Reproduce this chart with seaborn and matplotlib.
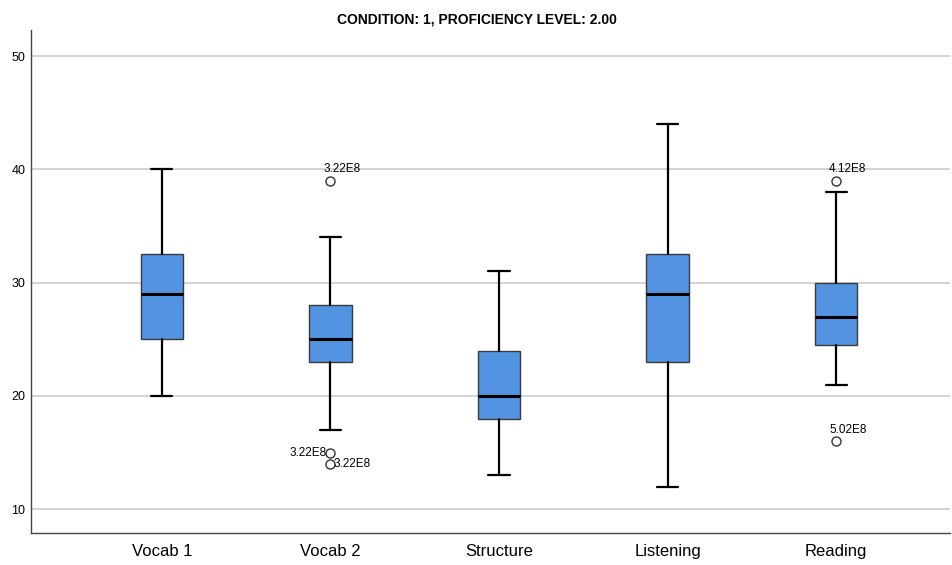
import matplotlib
matplotlib.use('Agg')
import matplotlib.pyplot as plt
import seaborn as sns

# box statistics
tests = ['Vocab 1', 'Vocab 2', 'Structure', 'Listening', 'Reading']
whislo = [20, 17, 13, 12, 21]
q1 = [25, 23, 18, 23, 24.5]
med = [29, 25, 20, 29, 27]
q3 = [32.5, 28, 24, 32.5, 30]
whishi = [40, 34, 31, 44, 38]
outliers = [[], [39, 15, 14], [], [], [39, 16]]
outlier_labels = [[], ['3.22E8', '3.22E8', '3.22E8'], [], [], ['4.12E8', '5.02E8']]
label_side = [[], ['top', 'left', 'right'], [], [], ['top', 'top']]

sns.set_style('white')
plt.rcParams['font.family'] = ['Liberation Sans', 'DejaVu Sans']
plt.rcParams['text.color'] = 'black'
plt.rcParams['xtick.color'] = 'black'
plt.rcParams['ytick.color'] = 'black'

stats = []
for i, name in enumerate(tests):
    stats.append({'label': name, 'whislo': whislo[i], 'q1': q1[i], 'med': med[i],
                  'q3': q3[i], 'whishi': whishi[i], 'fliers': outliers[i]})

fig = plt.figure(figsize=(9.53, 5.65), dpi=100)
ax = fig.add_axes([0.0325, 0.0566, 0.9645, 0.8904])

ax.bxp(stats, positions=range(len(tests)), widths=0.25, patch_artist=True,
       boxprops=dict(facecolor='#5294e2', edgecolor='#3a3a3a', linewidth=1),
       medianprops=dict(color='black', linewidth=2.2),
       whiskerprops=dict(color='black', linewidth=1.6),
       capprops=dict(color='black', linewidth=1.6),
       capwidths=0.125,
       flierprops=dict(marker='o', markersize=6.5, markerfacecolor='white',
                       markeredgecolor='#333333', markeredgewidth=1))

for i in range(len(tests)):
    for v, lab, side in zip(outliers[i], outlier_labels[i], label_side[i]):
        if side == 'top':
            ax.annotate(lab, (i, v), xytext=(-5, 4), textcoords='offset points',
                        ha='left', va='bottom', fontsize=8.5)
        elif side == 'left':
            ax.annotate(lab, (i, v), xytext=(-3, 0), textcoords='offset points',
                        ha='right', va='center', fontsize=8.5)
        else:
            ax.annotate(lab, (i, v), xytext=(2, 0), textcoords='offset points',
                        ha='left', va='center', fontsize=8.5)

ax.set_xlim(-0.777, 4.677)
ax.set_ylim(7.9, 52.3)
ax.set_yticks([10, 20, 30, 40, 50])
ax.yaxis.grid(True, color='#cccccc', linewidth=1.2)
ax.set_axisbelow(True)
ax.tick_params(axis='y', labelsize=9, length=0, pad=4)
ax.tick_params(axis='x', labelsize=12, length=0, pad=8)
for s in ['top', 'right']:
    ax.spines[s].set_visible(False)
for s in ['left', 'bottom']:
    ax.spines[s].set_color('#444444')
    ax.spines[s].set_linewidth(1)

fig.text(0.5, 0.965, 'CONDITION: 1, PROFICIENCY LEVEL: 2.00', ha='center', va='center',
         fontsize=10, fontweight='bold',
         family=['Liberation Sans Narrow', 'Liberation Sans', 'DejaVu Sans'])

fig.savefig('out.png', dpi=100)
